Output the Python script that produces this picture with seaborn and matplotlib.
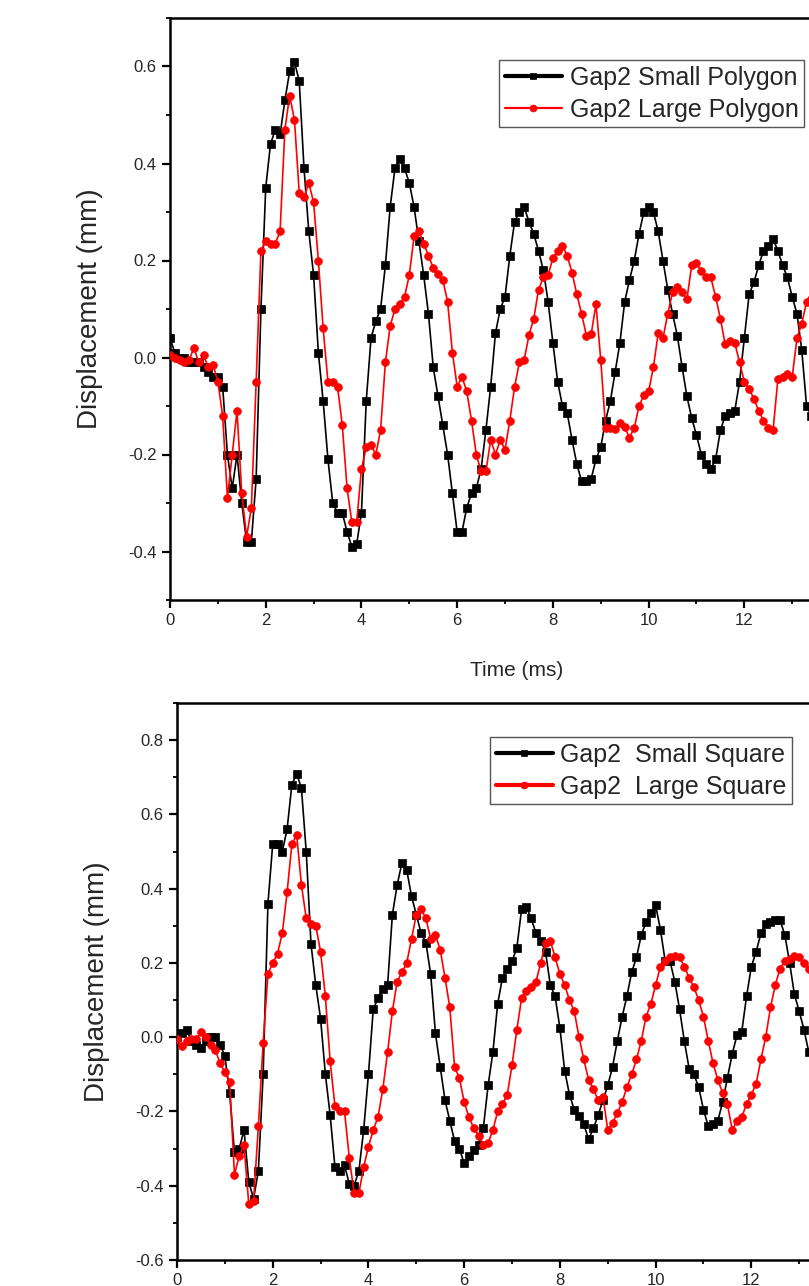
import numpy as np
import pandas as pd
import matplotlib
matplotlib.use("Agg")
import matplotlib.pyplot as plt
from matplotlib.ticker import MultipleLocator, FixedLocator, FormatStrFormatter
import seaborn as sns

# sampling step of the displacement records (ms)
dt = 0.1

# ---- Gap2 polygon records (mm) ----
small_polygon = [
    0.04, 0.01, 0.00, 0.00, -0.01, -0.01, -0.01, -0.02, -0.03, -0.04,
    -0.04, -0.06, -0.20, -0.27, -0.20, -0.30, -0.38, -0.38, -0.25, 0.10,
    0.35, 0.44, 0.47, 0.46, 0.53, 0.59, 0.61, 0.57, 0.39, 0.26,
    0.17, 0.01, -0.09, -0.21, -0.30, -0.32, -0.32, -0.36, -0.39, -0.385,
    -0.32, -0.09, 0.04, 0.075, 0.10, 0.19, 0.31, 0.39, 0.41, 0.39,
    0.36, 0.31, 0.24, 0.17, 0.09, -0.02, -0.08, -0.14, -0.20, -0.28,
    -0.36, -0.36, -0.31, -0.28, -0.27, -0.23, -0.15, -0.06, 0.05, 0.10,
    0.125, 0.21, 0.28, 0.30, 0.31, 0.28, 0.255, 0.22, 0.18, 0.115,
    0.03, -0.05, -0.10, -0.115, -0.17, -0.22, -0.255, -0.255, -0.25, -0.21,
    -0.185, -0.13, -0.09, -0.03, 0.03, 0.115, 0.16, 0.20, 0.255, 0.30,
    0.31, 0.30, 0.26, 0.20, 0.14, 0.09, 0.045, -0.02, -0.08, -0.125,
    -0.16, -0.20, -0.22, -0.23, -0.21, -0.15, -0.12, -0.115, -0.11, -0.05,
    0.04, 0.13, 0.155, 0.19, 0.22, 0.23, 0.245, 0.22, 0.19, 0.165,
    0.125, 0.09, 0.015, -0.10, -0.12,
]
large_polygon = [
    0.005, 0.00, -0.005, -0.01, -0.005, 0.02, -0.01, 0.005, -0.02, -0.015,
    -0.05, -0.12, -0.29, -0.20, -0.11, -0.28, -0.37, -0.31, -0.05, 0.22,
    0.24, 0.235, 0.235, 0.26, 0.47, 0.54, 0.49, 0.34, 0.33, 0.36,
    0.32, 0.20, 0.06, -0.05, -0.05, -0.06, -0.14, -0.27, -0.34, -0.34,
    -0.23, -0.185, -0.18, -0.20, -0.15, -0.01, 0.065, 0.10, 0.11, 0.125,
    0.17, 0.25, 0.26, 0.235, 0.21, 0.185, 0.172, 0.16, 0.115, 0.01,
    -0.06, -0.04, -0.07, -0.13, -0.20, -0.235, -0.235, -0.17, -0.20, -0.17,
    -0.19, -0.13, -0.06, -0.01, -0.005, 0.046, 0.08, 0.14, 0.165, 0.17,
    0.205, 0.22, 0.23, 0.21, 0.175, 0.13, 0.09, 0.045, 0.048, 0.11,
    -0.005, -0.145, -0.145, -0.148, -0.136, -0.144, -0.165, -0.145, -0.10, -0.078,
    -0.07, -0.02, 0.05, 0.04, 0.09, 0.135, 0.145, 0.135, 0.12, 0.19,
    0.195, 0.178, 0.166, 0.165, 0.125, 0.08, 0.027, 0.035, 0.03, -0.01,
    -0.05, -0.065, -0.085, -0.11, -0.13, -0.145, -0.15, -0.045, -0.04, -0.035,
    -0.04, 0.04, 0.07, 0.115, 0.12,
]

# ---- Gap2 square records (mm) ----
small_square = [
    0.00, 0.01, 0.02, -0.01, -0.02, -0.03, -0.01, 0.00, 0.00, -0.02,
    -0.05, -0.15, -0.31, -0.30, -0.25, -0.39, -0.435, -0.36, -0.10, 0.36,
    0.52, 0.52, 0.50, 0.56, 0.68, 0.71, 0.67, 0.50, 0.25, 0.14,
    0.05, -0.10, -0.21, -0.35, -0.36, -0.345, -0.395, -0.40, -0.36, -0.25,
    -0.10, 0.075, 0.105, 0.13, 0.14, 0.33, 0.41, 0.47, 0.45, 0.38,
    0.33, 0.28, 0.255, 0.17, 0.01, -0.08, -0.17, -0.225, -0.28, -0.30,
    -0.34, -0.32, -0.305, -0.29, -0.245, -0.13, -0.04, 0.09, 0.16, 0.185,
    0.205, 0.24, 0.345, 0.35, 0.32, 0.28, 0.26, 0.23, 0.14, 0.11,
    0.025, -0.09, -0.155, -0.195, -0.213, -0.235, -0.275, -0.245, -0.21, -0.17,
    -0.13, -0.08, -0.01, 0.055, 0.11, 0.175, 0.215, 0.275, 0.31, 0.335,
    0.355, 0.29, 0.205, 0.205, 0.15, 0.075, -0.01, -0.085, -0.10, -0.135,
    -0.195, -0.24, -0.235, -0.225, -0.175, -0.11, -0.045, 0.005, 0.015, 0.11,
    0.19, 0.23, 0.28, 0.305, 0.31, 0.315, 0.315, 0.275, 0.20, 0.115,
    0.07, 0.02, -0.04, -0.08, -0.10,
]
large_square = [
    -0.005, -0.025, -0.01, -0.005, -0.005, 0.015, 0.00, -0.02, -0.035, -0.07,
    -0.095, -0.12, -0.37, -0.32, -0.29, -0.45, -0.44, -0.24, -0.015, 0.17,
    0.20, 0.225, 0.28, 0.39, 0.52, 0.545, 0.41, 0.32, 0.305, 0.30,
    0.23, 0.11, -0.065, -0.185, -0.20, -0.20, -0.325, -0.42, -0.42, -0.35,
    -0.295, -0.25, -0.215, -0.14, -0.04, 0.07, 0.15, 0.175, 0.20, 0.265,
    0.33, 0.345, 0.32, 0.265, 0.275, 0.235, 0.16, 0.08, -0.08, -0.11,
    -0.175, -0.215, -0.245, -0.265, -0.29, -0.285, -0.25, -0.20, -0.18, -0.155,
    -0.075, 0.02, 0.105, 0.125, 0.135, 0.15, 0.20, 0.255, 0.26, 0.215,
    0.17, 0.14, 0.10, 0.07, 0.00, -0.06, -0.115, -0.14, -0.17, -0.16,
    -0.25, -0.23, -0.205, -0.175, -0.135, -0.10, -0.06, -0.01, 0.055, 0.09,
    0.14, 0.19, 0.205, 0.215, 0.22, 0.215, 0.19, 0.16, 0.135, 0.10,
    0.055, -0.01, -0.07, -0.115, -0.15, -0.18, -0.25, -0.225, -0.215, -0.18,
    -0.155, -0.125, -0.06, 0.00, 0.08, 0.14, 0.185, 0.205, 0.21, 0.22,
    0.215, 0.20, 0.185, 0.17, 0.16,
]

legend_top = ["Gap2 Small Polygon", "Gap2 Large Polygon"]
legend_bottom = ["Gap2  Small Square", "Gap2  Large Square"]
x_label = "Time (ms)"
y_label = "Displacement (mm)"
x_major = [0, 2, 4, 6, 8, 10, 12]

sns.set_theme(style="ticks")
plt.rcParams["font.family"] = ["Liberation Sans", "DejaVu Sans"]
plt.rcParams["axes.unicode_minus"] = False

TXT = "#262626"
W, H = 809, 1286
fig = plt.figure(figsize=(W / 100, H / 100), dpi=100)


def panel(rect, small, large, labels, ylim, thick_red_legend, legend_xy):
    ax = fig.add_axes(rect)
    t = np.arange(len(small)) * dt
    df = pd.DataFrame({"t": t, "small": small, "large": large})
    sns.lineplot(data=df, x="t", y="small", ax=ax, color="black", lw=1.2,
                 marker="s", markersize=5.4, markeredgecolor="black",
                 markeredgewidth=0.5, estimator=None, sort=False,
                 label=labels[0], zorder=3)
    sns.lineplot(data=df, x="t", y="large", ax=ax, color="#ff0000", lw=1.2,
                 marker="o", markersize=5.6, markeredgecolor="#ff0000",
                 markeredgewidth=0.5, estimator=None, sort=False,
                 label=labels[1], zorder=4)
    ax.set_xlim(0, 14.5)
    ax.set_ylim(*ylim)
    ax.xaxis.set_major_locator(FixedLocator(x_major))
    ax.xaxis.set_minor_locator(MultipleLocator(1))
    ax.yaxis.set_major_locator(MultipleLocator(0.2))
    ax.yaxis.set_minor_locator(MultipleLocator(0.1))
    ax.yaxis.set_major_formatter(FormatStrFormatter("%.1f"))
    ax.xaxis.set_major_formatter(FormatStrFormatter("%d"))
    for s in ax.spines.values():
        s.set_linewidth(1.8)
        s.set_color("black")
    ax.tick_params(which="major", direction="out", length=5.5, width=1.6,
                   labelsize=12, labelcolor=TXT, color="black", pad=4)
    ax.tick_params(which="minor", direction="out", length=3.2, width=1.3,
                   color="black")
    ax.set_ylabel(y_label, fontsize=20, color=TXT)
    ax.yaxis.set_label_coords(-0.097, 0.5)
    ax.set_xlabel("")
    leg = ax.legend(loc="upper left", bbox_to_anchor=legend_xy,
                    bbox_transform=fig.transFigure, frameon=True,
                    fancybox=False, framealpha=1, edgecolor="#555555",
                    fontsize=18, handlelength=2.3, handletextpad=0.3,
                    borderpad=0.22, labelspacing=0.32, borderaxespad=0,
                    numpoints=1)
    leg.get_frame().set_linewidth(1.0)
    for txt in leg.get_texts():
        txt.set_color(TXT)
    hl = leg.get_lines()
    hl[0].set_linewidth(3.0)
    hl[0].set_markersize(5)
    hl[1].set_linewidth(3.0 if thick_red_legend else 1.6)
    hl[1].set_markersize(5)
    return ax


ax1 = panel([170 / W, 1 - 600 / H, 694 / W, 582 / H],
            small_polygon, large_polygon, legend_top,
            (-0.5, 0.7), False, (499 / W, 1 - 60 / H))
ax1.set_xlabel(x_label, fontsize=15, color=TXT)
ax1.xaxis.set_label_coords(0.5, -0.104)

ax2 = panel([177 / W, 1 - 1260 / H, 694 / W, 557 / H],
            small_square, large_square, legend_bottom,
            (-0.6, 0.9), True, (490 / W, 1 - 737 / H))

fig.savefig("out.png", dpi=100)
